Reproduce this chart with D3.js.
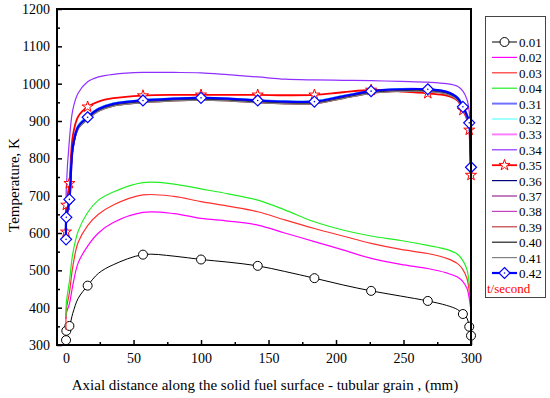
<!DOCTYPE html>
<html lang="en">
  <head>
    <meta charset="utf-8" />
    <title>Temperature along the solid fuel surface</title>
    <style>
      html, body {
        margin: 0;
        padding: 0;
        background-color: #ffffff;
      }
      svg text {
        font-family: 'Liberation Serif', 'Times New Roman', serif;
      }
    </style>
  </head>

  <body>
    <svg id="chart"></svg>

    <script src="https://d3js.org/d3.v7.min.js"></script>
    <script type="text/javascript">
      let width = 550,
        height = 398

      const serif = "'Liberation Serif', 'Times New Roman', serif"

      // Axial positions (mm) shared by every series
      const xPos = [0, 0.2, 2.5, 5, 9, 16, 24, 35, 57, 80, 100, 120, 142, 162, 184, 205, 226, 248, 268, 282, 290, 294, 297, 298.7, 299.5, 300]
      // positions that carry a symbol on the marked series
      const markerPos = [0, 0.2, 2.5, 16, 57, 100, 142, 184, 226, 268, 294, 298.7, 300]

      // Temperature (K) for each time step
      const t001 = [313, 338, 351, 385, 425, 459, 492, 515, 542, 538, 529, 522, 512, 497, 479, 461, 445, 431, 418, 406, 395, 383, 372, 349, 335, 325]
      const t002 = [370, 385, 410, 460, 520, 565, 600, 628, 655, 652, 639, 632, 621, 600, 577, 555, 532, 516, 505, 493, 482, 470, 452, 425, 405, 394]
      const t003 = [340, 395, 440, 510, 575, 620, 650, 675, 702, 698, 684, 672, 657, 635, 612, 592, 572, 556, 545, 532, 518, 502, 478, 445, 418, 403]
      const t004 = [376, 412, 470, 545, 605, 655, 688, 710, 735, 731, 718, 705, 688, 662, 630, 608, 592, 580, 567, 556, 543, 526, 502, 465, 432, 415]
      const t031 = [590, 650, 700, 835, 888, 912, 933, 947, 956, 960, 963, 960, 956, 953, 953, 967, 981, 986, 985, 978, 963, 940, 916, 896, 832, 778]
      const t032 = [595, 655, 705, 838, 890, 913, 934, 948, 957, 961, 963, 961, 956, 953, 954, 968, 981, 986, 986, 979, 964, 941, 917, 897, 834, 780]
      const t033 = [581, 640, 688, 828, 883, 908, 930, 944, 953, 958, 960, 958, 953, 950, 950, 964, 978, 983, 983, 976, 960, 936, 913, 893, 828, 774]
      const t034 = [650, 720, 850, 930, 975, 1005, 1018, 1025, 1030, 1030, 1029, 1024, 1018, 1012, 1010, 1009, 1008, 1006, 1004, 1000, 993, 980, 958, 925, 860, 780]
      const t035 = [603, 675, 733, 860, 912, 938, 952, 961, 968, 970, 970, 970, 970, 969, 970, 977, 983, 979, 974, 968, 955, 929, 905, 876, 800, 755]
      const t036 = [580, 639, 687, 827, 882, 907, 929, 943, 952, 957, 959, 957, 952, 949, 949, 963, 977, 982, 982, 975, 959, 935, 912, 892, 827, 773]
      const t037 = [579, 638, 686, 826, 881, 906, 928, 942, 951, 956, 958, 956, 951, 948, 948, 962, 976, 981, 981, 974, 958, 934, 911, 891, 826, 772]
      const t038 = [578, 637, 685, 825, 880, 905, 927, 941, 950, 955, 957, 955, 950, 947, 947, 961, 975, 980, 980, 973, 957, 933, 910, 890, 825, 771]
      const t039 = [577, 636, 684, 824, 879, 904, 926, 940, 949, 954, 956, 954, 949, 946, 946, 960, 974, 979, 979, 972, 956, 932, 909, 889, 824, 770]
      const t040 = [579, 638, 686, 826, 881, 906, 928, 942, 951, 956, 958, 956, 951, 948, 948, 962, 976, 981, 981, 974, 958, 934, 911, 891, 826, 772]
      const t041 = [577, 636, 684, 824, 879, 904, 926, 940, 949, 954, 956, 954, 949, 946, 946, 960, 974, 979, 979, 972, 956, 932, 909, 889, 824, 770]
      const t042 = [583, 642, 690, 830, 885, 910, 932, 946, 955, 960, 962, 960, 955, 952, 952, 966, 980, 985, 985, 978, 962, 938, 915, 895, 830, 776]

      const labels = ['0.01', '0.02', '0.03', '0.04', '0.31', '0.32', '0.33', '0.34', '0.35', '0.36', '0.37', '0.38', '0.39', '0.40', '0.41', '0.42']
      const values = [t001, t002, t003, t004, t031, t032, t033, t034, t035, t036, t037, t038, t039, t040, t041, t042]
      const colors = ['#000000', '#ff00ff', '#ff3030', '#22ee22', '#7070ff', '#60ffff', '#ff80ff', '#9030ff', '#ff0000', '#000080', '#c080c0', '#c040c0', '#c04040', '#202020', '#808080', '#0000ff']
      const widths = [1, 1.2, 1.2, 1.2, 2, 1.2, 2, 1.2, 1.8, 1.2, 2, 1.2, 1.2, 1.2, 1.2, 2.2]
      const markers = ['circle', null, null, null, null, null, null, null, 'star', null, null, null, null, null, null, 'diamond']

      const yTicks = d3.range(300, 1201, 100)
      const yMinor = d3.range(350, 1200, 100)
      const xTicks = d3.range(0, 301, 50)
      const xMinor = d3.range(25, 300, 50)

      let svg = d3.select('#chart').attr('width', width).attr('height', height)

      let x = d3.scaleLinear().domain([-6.7, 300]).range([57, 471])
      let y = d3.scaleLinear().domain([300, 1200]).range([345, 9])

      function styleAxis(g) {
        g.select('.domain').remove()
        g.attr('font-family', serif)
        g.selectAll('text').attr('font-family', serif).attr('font-size', 14).attr('fill', '#000')
      }

      // Axes (ticks pointing inward)
      svg
        .append('g')
        .attr('transform', 'translate(57,0)')
        .call(d3.axisLeft(y).tickValues(yMinor).tickSize(-3).tickFormat(''))
        .call(styleAxis)
      svg
        .append('g')
        .attr('transform', 'translate(57,0)')
        .call(d3.axisLeft(y).tickValues(yTicks).tickSize(-5).tickPadding(7).tickFormat(d3.format('d')))
        .call(styleAxis)

      svg
        .append('g')
        .attr('transform', 'translate(0,345)')
        .call(d3.axisBottom(x).tickValues(xMinor).tickSize(-3).tickFormat(''))
        .call(styleAxis)
      svg
        .append('g')
        .attr('transform', 'translate(0,345)')
        .call(d3.axisBottom(x).tickValues(xTicks).tickSize(-5).tickPadding(8).tickFormat(d3.format('d')))
        .call(styleAxis)

      svg.selectAll('.tick line').attr('stroke', '#000').attr('stroke-width', 1.5)

      // Axis titles
      svg
        .append('text')
        .attr('x', 265)
        .attr('y', 390)
        .attr('text-anchor', 'middle')
        .attr('font-size', 15)
        .text('Axial distance along the solid fuel surface - tubular grain , (mm)')

      svg
        .append('text')
        .attr('transform', 'translate(19,185) rotate(-90)')
        .attr('text-anchor', 'middle')
        .attr('font-size', 15)
        .text('Temperature, K')

      // Lines
      let line = d3
        .line()
        .x((d) => x(d[0]))
        .y((d) => y(d[1]))
        .curve(d3.curveCatmullRom.alpha(0.5))

      let plot = svg.append('g')

      function drawMarker(g, type, color) {
        if (type == 'circle') {
          g.append('circle').attr('r', 4.5).attr('fill', '#fff').attr('stroke', color).attr('stroke-width', 1)
        } else if (type == 'star') {
          g.append('path')
            .attr('d', d3.symbol(d3.symbolStar, 38)())
            .attr('fill', '#fff')
            .attr('stroke', color)
            .attr('stroke-width', 1)
        } else if (type == 'diamond') {
          g.append('path').attr('d', 'M0,-5.5L5.5,0L0,5.5L-5.5,0Z').attr('fill', '#fff').attr('stroke', color).attr('stroke-width', 1.2)
          g.append('circle').attr('r', 0.8).attr('fill', color)
        }
      }

      values.forEach((vals, i) => {
        let pts = xPos.map((p, j) => [p, vals[j]])
        plot
          .append('path')
          .datum(pts)
          .attr('d', line)
          .attr('fill', 'none')
          .attr('stroke', colors[i])
          .attr('stroke-width', widths[i])

        if (markers[i]) {
          pts
            .filter((d) => markerPos.includes(d[0]))
            .forEach((d) => {
              let g = plot.append('g').attr('transform', 'translate(' + x(d[0]) + ',' + y(d[1]) + ')')
              drawMarker(g, markers[i], colors[i])
            })
        }
      })

      // Frame
      svg
        .append('rect')
        .attr('x', 57)
        .attr('y', 9)
        .attr('width', 471 - 57)
        .attr('height', 345 - 9)
        .attr('fill', 'none')
        .attr('stroke', '#000')
        .attr('stroke-width', 2)

      // Legend
      let legend = svg.append('g')
      legend
        .append('rect')
        .attr('x', 485.5)
        .attr('y', 16.5)
        .attr('width', 60)
        .attr('height', 281)
        .attr('fill', '#fff')
        .attr('stroke', '#444')
        .attr('stroke-width', 1)

      labels.forEach((lab, i) => {
        let ly = 42 + i * 15.4
        legend
          .append('line')
          .attr('x1', 492)
          .attr('x2', 517)
          .attr('y1', ly)
          .attr('y2', ly)
          .attr('stroke', colors[i])
          .attr('stroke-width', widths[i])
        if (markers[i]) {
          let g = legend.append('g').attr('transform', 'translate(504.5,' + ly + ')')
          drawMarker(g, markers[i], colors[i])
        }
        legend
          .append('text')
          .attr('x', 519)
          .attr('y', ly + 5)
          .attr('font-size', 13)
          .text(lab)
      })

      legend
        .append('text')
        .attr('x', 487)
        .attr('y', 42 + 16 * 15.4 + 5)
        .attr('font-size', 13)
        .attr('fill', '#ff0000')
        .text('t/second')
    </script>
  </body>
</html>
